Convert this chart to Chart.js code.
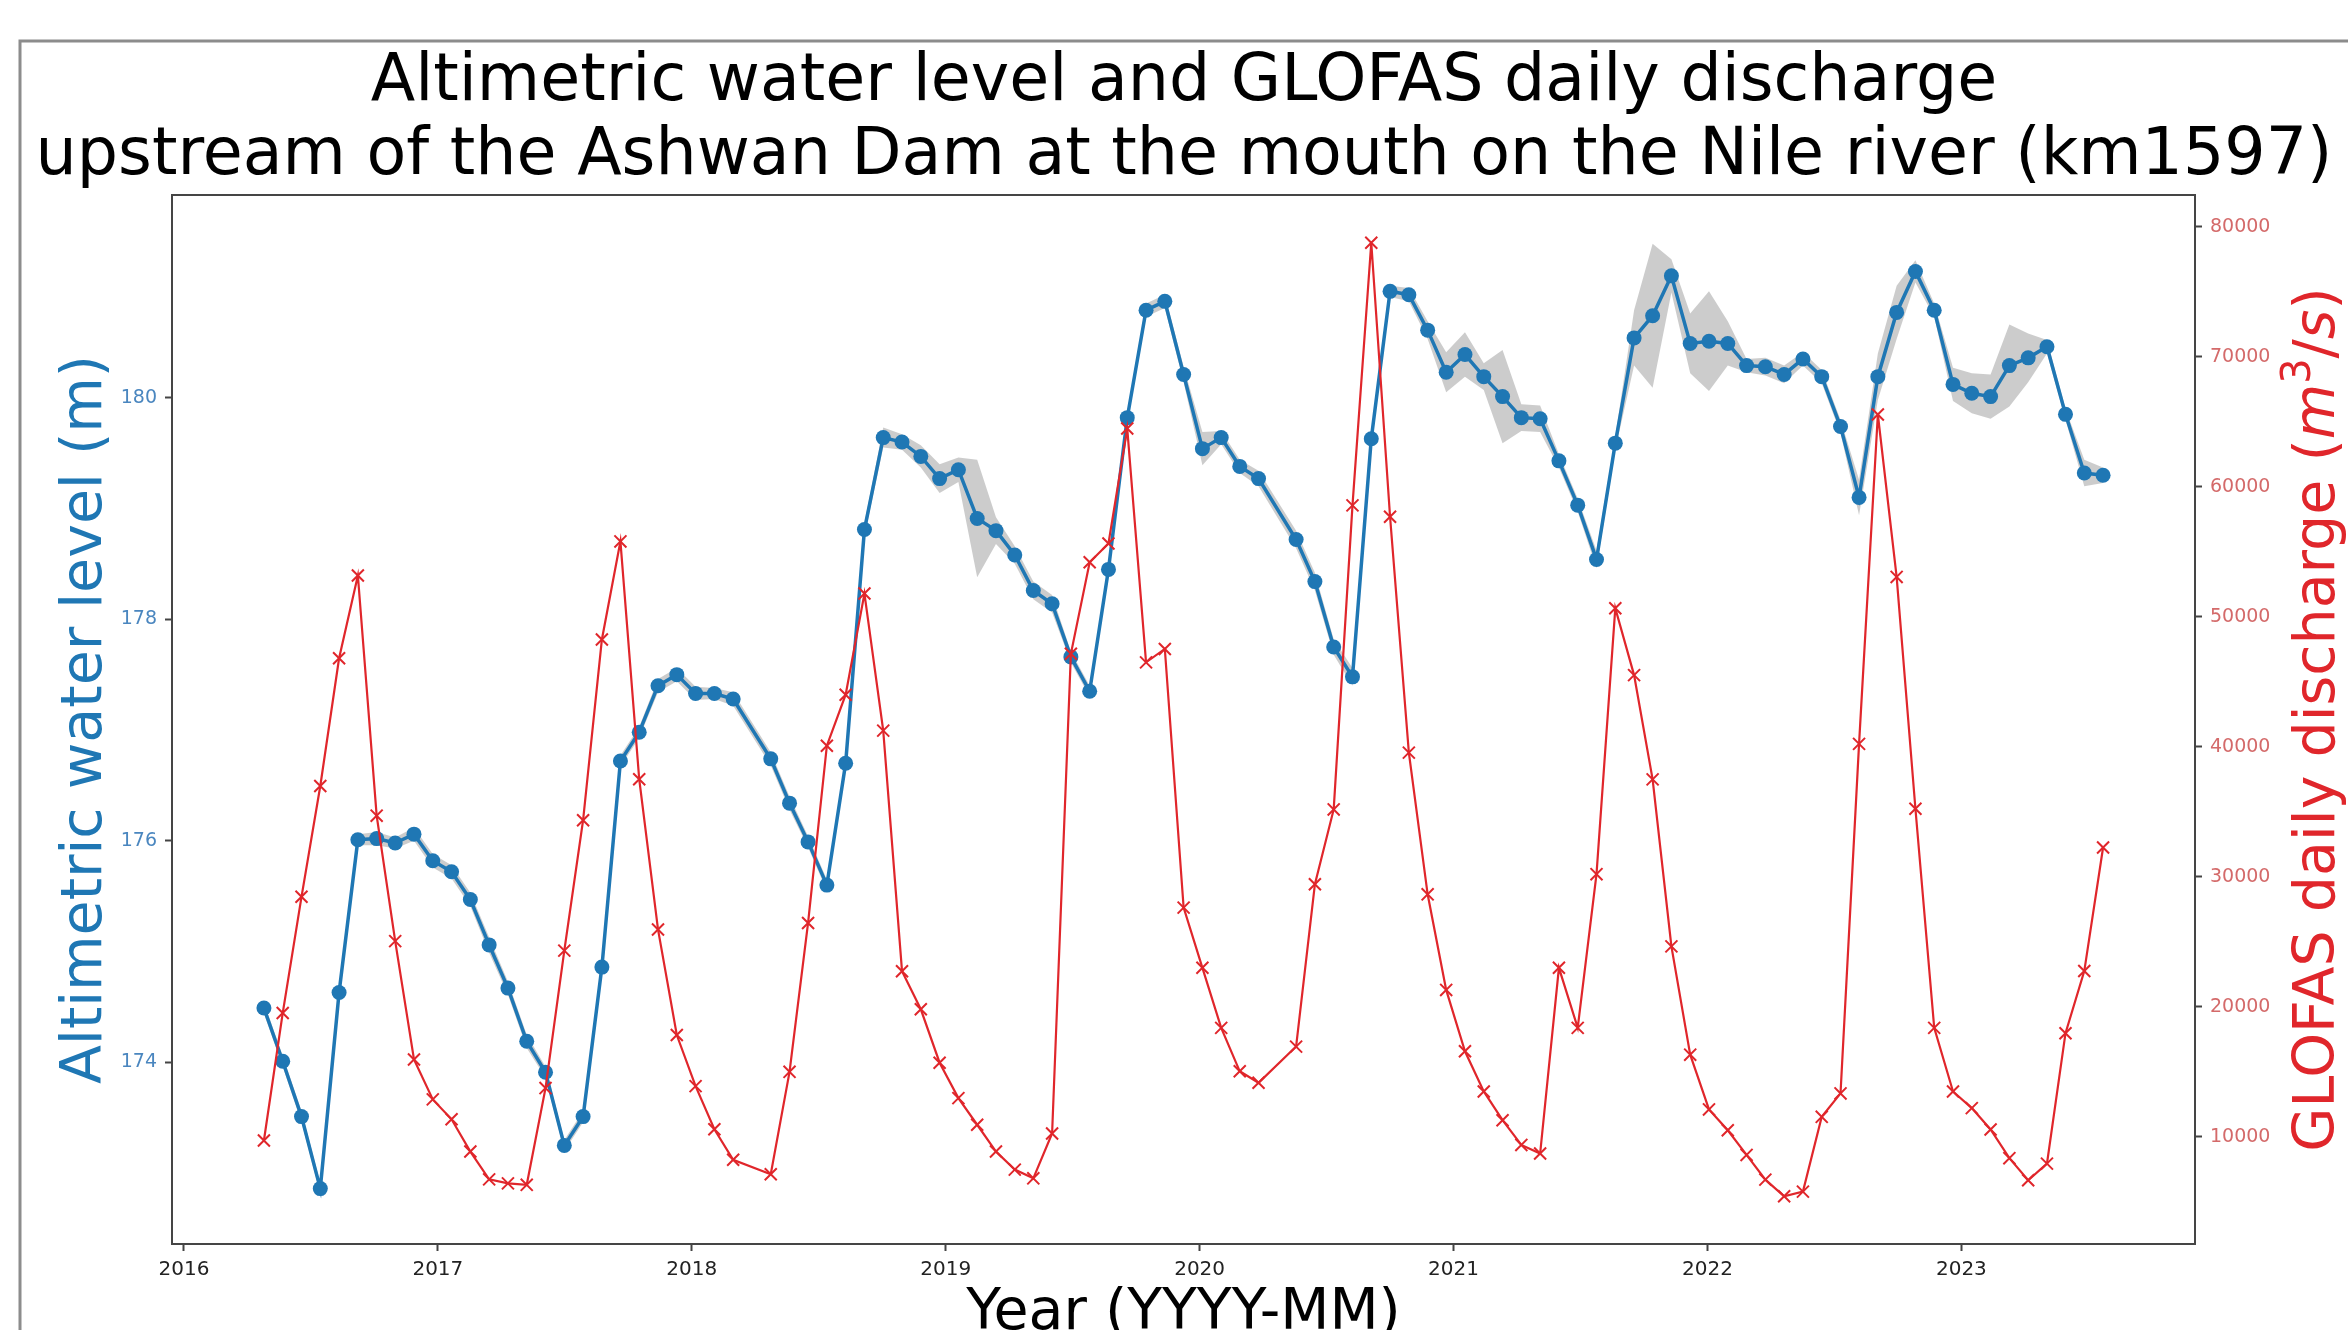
<!DOCTYPE html>
<html>
<head>
<meta charset="utf-8">
<title>Altimetric water level and GLOFAS daily discharge</title>
<script src="https://cdn.jsdelivr.net/npm/chart.js@4.4.1/dist/chart.umd.min.js"></script>
<style>
    html, body { margin: 0; padding: 0; background: #fff; overflow: hidden; }
    #wrap { position: relative; width: 2348px; height: 1330px; }
</style>
</head>
<body>
<div id="wrap"><canvas id="levelChart"></canvas></div>
<script>
// sampling dates (decimal years, ~27 day altimetry cycle)
const years = [
    2016.315, 2016.389, 2016.463, 2016.537, 2016.611, 2016.685, 2016.759, 2016.832, 2016.906, 2016.980,
    2017.054, 2017.128, 2017.202, 2017.276, 2017.350, 2017.424, 2017.498, 2017.572, 2017.646, 2017.719,
    2017.793, 2017.867, 2017.941, 2018.015, 2018.089, 2018.163, 2018.311, 2018.385, 2018.458,
    2018.532, 2018.606, 2018.680, 2018.754, 2018.828, 2018.902, 2018.976, 2019.050, 2019.124, 2019.198,
    2019.272, 2019.345, 2019.419, 2019.493, 2019.567, 2019.641, 2019.715, 2019.789, 2019.863, 2019.937,
    2020.011, 2020.085, 2020.158, 2020.232, 2020.380, 2020.454, 2020.528, 2020.602, 2020.676,
    2020.750, 2020.824, 2020.898, 2020.971, 2021.045, 2021.119, 2021.193, 2021.267, 2021.341, 2021.415,
    2021.489, 2021.563, 2021.637, 2021.711, 2021.784, 2021.858, 2021.932, 2022.006, 2022.080, 2022.154,
    2022.228, 2022.302, 2022.376, 2022.450, 2022.524, 2022.597, 2022.671, 2022.745, 2022.819, 2022.893,
    2022.967, 2023.041, 2023.115, 2023.189, 2023.263, 2023.337, 2023.410, 2023.484, 2023.558
];

// altimetric water level (m)
const level = [
    174.49, 174.01, 173.51, 172.86, 174.63, 176.01, 176.02, 175.98, 176.06, 175.82,
    175.72, 175.47, 175.06, 174.67, 174.19, 173.91, 173.25, 173.51, 174.86, 176.72,
    176.98, 177.40, 177.50, 177.33, 177.33, 177.28, 176.74, 176.34, 175.99,
    175.60, 176.70, 178.81, 179.64, 179.60, 179.47, 179.27, 179.35, 178.91, 178.80,
    178.58, 178.26, 178.14, 177.66, 177.35, 178.45, 179.82, 180.79, 180.87, 180.21,
    179.54, 179.64, 179.38, 179.27, 178.72, 178.34, 177.75, 177.48, 179.63,
    180.96, 180.93, 180.61, 180.23, 180.39, 180.19, 180.01, 179.82, 179.81, 179.43,
    179.03, 178.54, 179.59, 180.54, 180.74, 181.10, 180.49, 180.51, 180.49, 180.29,
    180.28, 180.21, 180.35, 180.19, 179.74, 179.10, 180.19, 180.77, 181.14, 180.79,
    180.12, 180.04, 180.01, 180.29, 180.36, 180.46, 179.85, 179.32, 179.30
];

// spread of the water level (m), shown as the grey band
const levelStd = [
    0.05, 0.05, 0.05, 0.05, 0.05, 0.05, 0.06, 0.05, 0.06, 0.06,
    0.06, 0.06, 0.07, 0.06, 0.06, 0.05, 0.05, 0.05, 0.05, 0.05,
    0.05, 0.06, 0.06, 0.06, 0.05, 0.06, 0.06, 0.06, 0.05,
    0.05, 0.05, 0.06, 0.09, 0.07, 0.10, 0.13, 0.11, 0.53, 0.12,
    0.08, 0.08, 0.08, 0.05, 0.05, 0.05, 0.05, 0.06, 0.06, 0.07,
    0.15, 0.06, 0.06, 0.07, 0.08, 0.08, 0.07, 0.08, 0.05,
    0.05, 0.06, 0.08, 0.18, 0.20, 0.12, 0.42, 0.12, 0.12, 0.06,
    0.06, 0.08, 0.06, 0.25, 0.65, 0.15, 0.27, 0.45, 0.20, 0.06,
    0.08, 0.08, 0.06, 0.06, 0.06, 0.16, 0.21, 0.24, 0.10, 0.06,
    0.15, 0.18, 0.20, 0.37, 0.22, 0.06, 0.05, 0.12, 0.07
];

// GLOFAS daily discharge (m3/s)
const discharge = [
    9720, 19520, 28460, 36980, 46800, 53170, 34700, 25050, 15950, 12880,
    11350, 8870, 6730, 6420, 6310, 13750, 24320, 34350, 48250, 55790,
    37500, 25950, 17830, 13900, 10580, 8240, 7120, 15000, 26450,
    40080, 44000, 51780, 41240, 22740, 19810, 15700, 12980, 10930, 8870,
    7480, 6810, 10260, 47150, 54190, 55630, 64470, 46490, 47520, 27630,
    23000, 18380, 15040, 14160, 16940, 29430, 35180, 58560, 78760,
    57690, 39550, 28650, 21300, 16580, 13490, 11280, 9380, 8720, 23000,
    18380, 30200, 50650, 45510, 37490, 24650, 16320, 12110, 10510, 8610,
    6710, 5430, 5790, 11540, 13340, 40220, 65550, 53060, 35230, 18380,
    13490, 12210, 10570, 8360, 6660, 7940, 17970, 22750, 32250
];

const yearTicks = [2016, 2017, 2018, 2019, 2020, 2021, 2022, 2023];
const levelTicks = [174, 176, 178, 180];
const dischargeTicks = [10000, 20000, 30000, 40000, 50000, 60000, 70000, 80000];

const titleLines = [
    'Altimetric water level and GLOFAS daily discharge',
    'upstream of the Ashwan Dam at the mouth on the Nile river (km1597)'
];

const BLUE = '#1f77b4';
const RED = '#e0262b';
const FONT = '"DejaVu Sans", sans-serif';

// figure border, plot frame and the right-hand axis label (reads bottom to top, with m^3/s)
const framePlugin = {
    id: 'frameLines',
    beforeDraw(chart) {
        const ctx = chart.ctx;
        ctx.save();
        ctx.strokeStyle = '#8c8c8c';
        ctx.lineWidth = 3;
        ctx.beginPath();
        ctx.moveTo(20, chart.height);
        ctx.lineTo(20, 41);
        ctx.lineTo(chart.width, 41);
        ctx.stroke();
        ctx.restore();
    },
    afterDatasetsDraw(chart) {
        const { ctx, chartArea: a } = chart;
        ctx.save();
        ctx.strokeStyle = '#454545';
        ctx.lineWidth = 2;
        ctx.strokeRect(a.left, a.top, a.right - a.left, a.bottom - a.top);
        ctx.restore();
    },
    afterDraw(chart) {
        const { ctx, chartArea: a } = chart;
        const size = 57;
        const parts = [
            { t: 'GLOFAS daily discharge (', f: `${size}px ${FONT}`, dy: 0 },
            { t: 'm', f: `italic ${size}px ${FONT}`, dy: 0 },
            { t: '3', f: `${Math.round(size * 0.7)}px ${FONT}`, dy: -size * 0.42 },
            { t: '/', f: `${size}px ${FONT}`, dy: 0 },
            { t: 's', f: `italic ${size}px ${FONT}`, dy: 0 },
            { t: ')', f: `${size}px ${FONT}`, dy: 0 }
        ];
        ctx.save();
        ctx.fillStyle = RED;
        ctx.textAlign = 'left';
        ctx.textBaseline = 'alphabetic';
        let total = 0;
        parts.forEach(p => { ctx.font = p.f; p.w = ctx.measureText(p.t).width; total += p.w; });
        ctx.translate(2334, (a.top + a.bottom) / 2);
        ctx.rotate(-Math.PI / 2);
        let x = -total / 2;
        parts.forEach(p => { ctx.font = p.f; ctx.fillText(p.t, x, p.dy); x += p.w; });
        ctx.restore();
    }
};

document.addEventListener('DOMContentLoaded', () => {
    const ctx = document.getElementById('levelChart').getContext('2d');

    const levelPts = level.map((v, i) => ({ x: years[i], y: v }));
    const lowPts = level.map((v, i) => ({ x: years[i], y: v - levelStd[i] }));
    const highPts = level.map((v, i) => ({ x: years[i], y: v + levelStd[i] }));
    const flowPts = discharge.map((v, i) => ({ x: years[i], y: v }));

    const tickMarks = { display: true, drawOnChartArea: false, drawTicks: true, tickLength: 7, tickColor: '#444', tickWidth: 2 };

    new Chart(ctx, {
        type: 'line',
        data: {
            datasets: [
                {
                    label: 'GLOFAS daily discharge',
                    data: flowPts,
                    yAxisID: 'y1',
                    borderColor: RED,
                    borderWidth: 2.2,
                    pointStyle: 'crossRot',
                    pointRadius: 8.5,
                    pointBorderWidth: 2,
                    pointBorderColor: RED,
                    pointBackgroundColor: RED,
                    fill: false,
                    tension: 0,
                    order: 0
                },
                {
                    label: 'Altimetric water level',
                    data: levelPts,
                    yAxisID: 'y',
                    borderColor: BLUE,
                    borderWidth: 3.5,
                    pointRadius: 7.5,
                    pointBorderWidth: 0,
                    pointBackgroundColor: BLUE,
                    fill: false,
                    tension: 0,
                    order: 1
                },
                {
                    label: 'low',
                    data: lowPts,
                    yAxisID: 'y',
                    borderWidth: 0,
                    pointRadius: 0,
                    fill: false,
                    order: 3
                },
                {
                    label: 'high',
                    data: highPts,
                    yAxisID: 'y',
                    borderWidth: 0,
                    pointRadius: 0,
                    fill: '-1',
                    backgroundColor: 'rgba(128, 128, 128, 0.4)',
                    order: 2
                }
            ]
        },
        options: {
            responsive: true,
            maintainAspectRatio: false,
            animation: false,
            devicePixelRatio: 1,
            events: [],
            layout: { padding: { left: 20, right: 0, top: 0, bottom: 0 } },
            plugins: {
                legend: { display: false },
                tooltip: { enabled: false },
                title: {
                    display: true,
                    text: titleLines,
                    color: '#000',
                    font: { family: FONT, size: 65, weight: 'normal', lineHeight: 74 / 65 },
                    padding: { top: 46, bottom: 1 }
                }
            },
            scales: {
                x: {
                    type: 'linear',
                    position: 'bottom',
                    min: 2015.953,
                    max: 2023.92,
                    afterBuildTicks: s => { s.ticks = yearTicks.map(v => ({ value: v })); },
                    afterFit: s => { s.height = 86; },
                    ticks: {
                        color: '#222',
                        font: { family: FONT, size: 20 },
                        padding: 7,
                        autoSkip: false,
                        maxRotation: 0,
                        callback: v => String(v)
                    },
                    grid: tickMarks,
                    border: { display: false },
                    title: {
                        display: true,
                        text: 'Year (YYYY-MM)',
                        color: '#000',
                        font: { family: FONT, size: 57, lineHeight: 1 },
                        padding: { top: 0, bottom: -13 }
                    }
                },
                y: {
                    type: 'linear',
                    position: 'left',
                    min: 172.36,
                    max: 181.83,
                    afterBuildTicks: s => { s.ticks = levelTicks.map(v => ({ value: v })); },
                    afterFit: s => { s.width = 152; },
                    ticks: {
                        color: '#4a86bf',
                        font: { family: FONT, size: 19 },
                        padding: 8,
                        callback: v => String(v)
                    },
                    grid: tickMarks,
                    border: { display: false },
                    title: {
                        display: true,
                        text: 'Altimetric water level (m)',
                        color: BLUE,
                        font: { family: FONT, size: 57 },
                        padding: { top: 32, bottom: 0 }
                    }
                },
                y1: {
                    type: 'linear',
                    position: 'right',
                    min: 1760,
                    max: 82430,
                    afterBuildTicks: s => { s.ticks = dischargeTicks.map(v => ({ value: v })); },
                    afterFit: s => { s.width = 153; },
                    ticks: {
                        color: '#d46a6a',
                        font: { family: FONT, size: 19 },
                        padding: 8,
                        callback: v => String(v)
                    },
                    grid: tickMarks,
                    border: { display: false },
                    title: { display: false }
                }
            }
        },
        plugins: [framePlugin]
    });
});
</script>
</body>
</html>
